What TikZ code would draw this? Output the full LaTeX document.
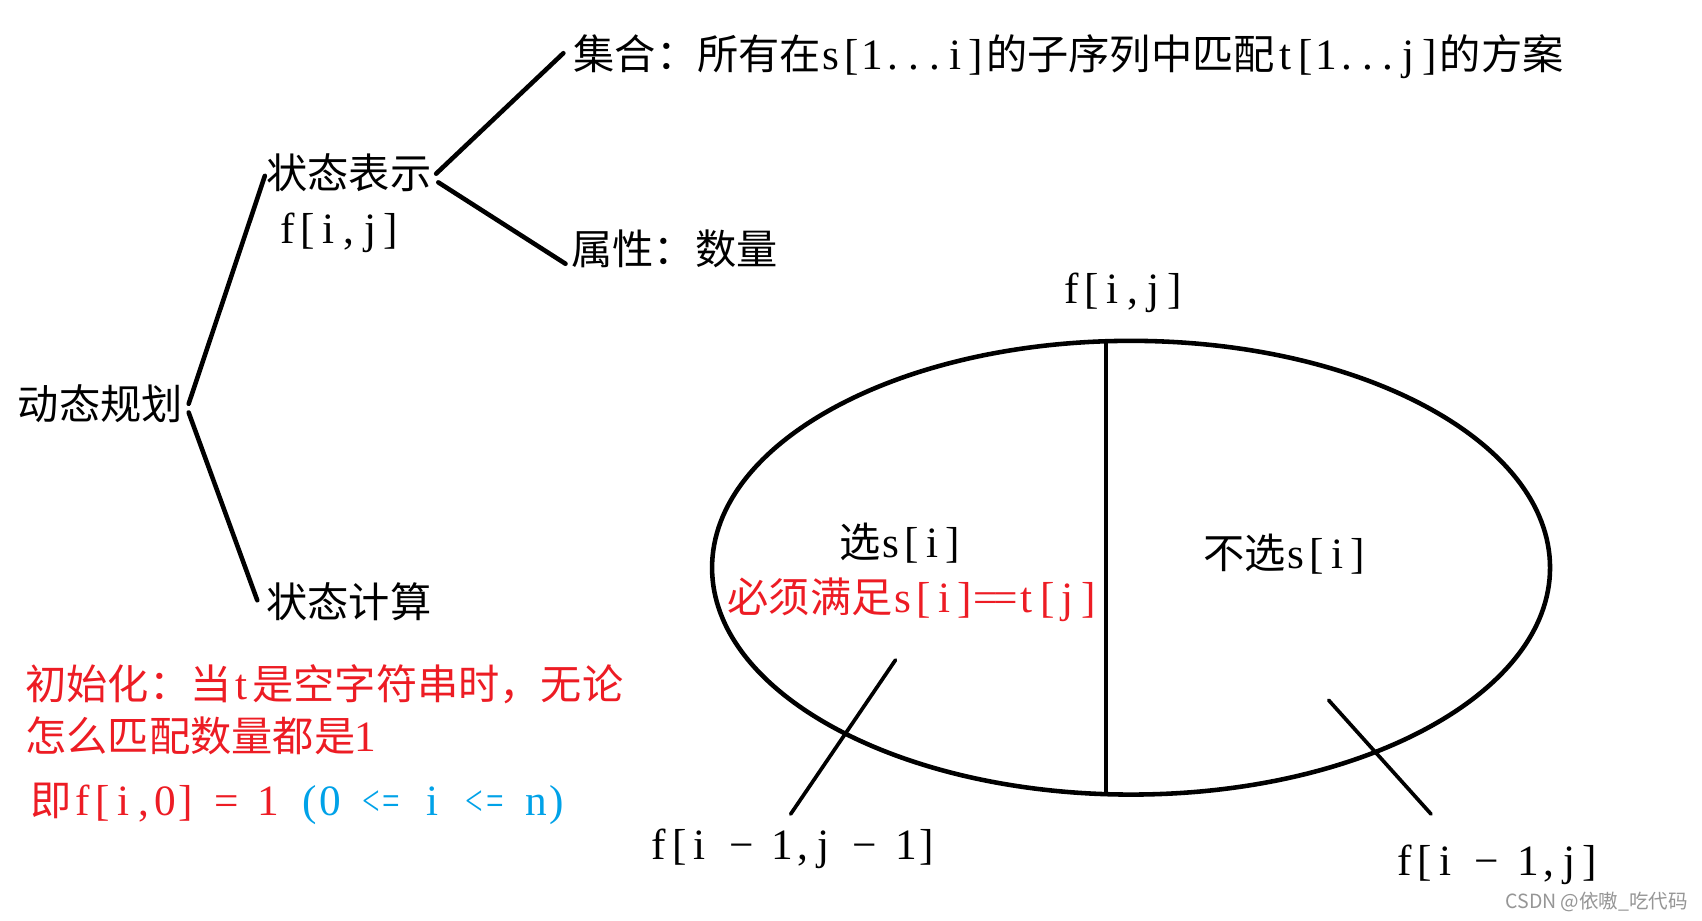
\documentclass[tikz,border=0pt]{standalone}
\usepackage{fontspec}
\usepackage{graphicx}
\setmainfont{Liberation Serif}[Scale=1.05]
\newfontfamily\cjk{Noto Sans CJK SC}
\definecolor{myred}{RGB}{237,28,36}
\definecolor{myblue}{RGB}{0,162,232}
\definecolor{wmgray}{RGB}{150,150,150}
\let\hwend\relax
\def\hwloop#1{\ifx#1\hwend\else\makebox[9.5pt]{#1}\expandafter\hwloop\fi}
\newcommand\hw[1]{\hwloop#1\hwend}
\newcommand\nle{\makebox[9.5pt]{\scalebox{0.72}[1]{<}}\makebox[9.5pt]{\scalebox{0.72}[1]{=}}}
\tikzset{
  txt/.style={inner sep=0pt, anchor=base west, font=\fontsize{19}{23}\selectfont},
  tree/.style={line width=2.1pt, line cap=round},
  thin/.style={line width=1.7pt, line cap=round},
}
\begin{document}
\begin{tikzpicture}[x=0.5pt,y=-0.5pt]
\fill[white] (0,0) rectangle (1568,848);
\path[use as bounding box] (0,0) rectangle (1568,848);

% tree texts
\node[txt] (dp) at (16,386) {\cjk 动态规划};
\node[txt] (zt) at (245,174) {\cjk 状态表示};
\node[txt] (fij) at (255,224.5) {\hw{f[i,j]}};
\node[txt] (jh) at (528,64) {{\cjk 集合：所有在}\hw{s[1...i]}{\cjk 的子序列中匹配}\hw{t[1...j]}{\cjk 的方案}};
\node[txt] (sx) at (526,244) {\cjk 属性：数量};
\node[txt] (js) at (245,569) {\cjk 状态计算};

% red notes
\node[txt, text=myred] (in1) at (23,644) {{\cjk 初始化：当}\hw{t}{\cjk 是空字符串时，无论}};
\node[txt, text=myred] (in2) at (23,692) {{\cjk 怎么匹配数量都是}\hw{1}};
\node[txt, text=myred] (in3) at (28,751) {{\cjk 即}\hw{f[i,0]~=~1~}{\color{myblue}\hw{(0~}\nle\hw{~i~}\nle\hw{~n)}}};

% tree connectors
\draw[tree] ([shift={(5,-14)}]dp.base east) -- ([shift={(-1,-12)}]zt.base west);
\draw[tree] ([shift={(5,-6)}]dp.base east) -- ([shift={(-8,-16)}]js.base west);
\draw[tree] ([shift={(4,-14)}]zt.base east) -- ([shift={(-9,-15)}]jh.base west);
\draw[tree] ([shift={(6,-6)}]zt.base east) -- ([shift={(-5,-1)}]sx.base west);

% ellipse
\draw[tree] (1042,523) ellipse [x radius=193pt, y radius=104.5pt];
\coordinate (etop) at (1019,314.4);
\coordinate (ebot) at (1019,731.6);
\draw[line width=1.6pt] (etop) -- (ebot);

\node[txt] (ftop) at (977,279.5) {\hw{f[i,j]}};
\node[txt] (xuan) at (773,514) {{\cjk 选}\hw{s[i]}};
\node[txt, text=myred] (bx) at (670,564) {{\cjk 必须满足}\hw{s[i]==t[j]}};
\node[txt] (buxuan) at (1108,524) {{\cjk 不选}\hw{s[i]}};

\node[txt] (fl) at (597,791.5) {\hw{f[i~−~1,j~−~1]}};
\node[txt] (fr) at (1284,806.5) {\hw{f[i~−~1,j]}};

\coordinate (e1) at (825,608);
\coordinate (f1) at (1224,645);
\draw[thin] (e1) -- ([shift={(-2,-41.5)}]fl.base);
\draw[thin] (f1) -- ([shift={(-61,-56.5)}]fr.base);

% watermark
\node[inner sep=0pt, text=wmgray, font=\cjk\fontsize{9}{11}\selectfont] (wm) at (1471,831) {CSDN @依嗷\_吃代码};
\end{tikzpicture}
\end{document}
